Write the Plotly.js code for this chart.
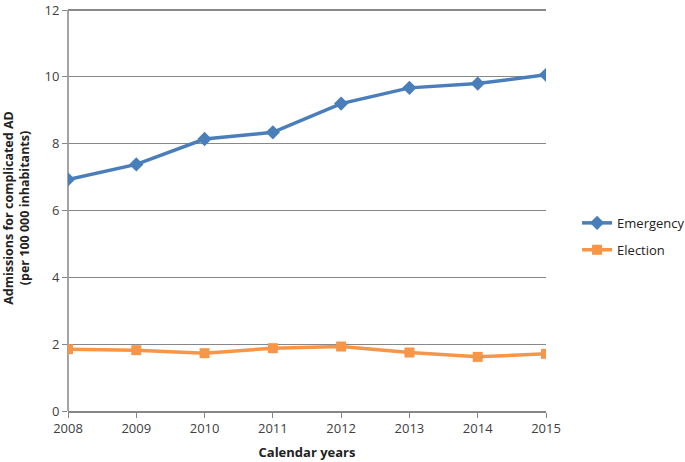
<!DOCTYPE html>
<html>
<head>
<meta charset="utf-8">
<script src="https://cdn.plot.ly/plotly-3.0.1.min.js"></script>
<style>html,body{margin:0;padding:0;background:#fff;}#chart{width:685px;height:462px;}</style>
</head>
<body>
<div id="chart"></div>
<script>
const years = [2008, 2009, 2010, 2011, 2012, 2013, 2014, 2015];
const emergency = [6.93, 7.38, 8.14, 8.34, 9.20, 9.67, 9.80, 10.06];
const election = [1.85, 1.82, 1.73, 1.88, 1.93, 1.75, 1.62, 1.71];
const yTicks = [0, 2, 4, 6, 8, 10, 12];
const yMax = 12;

const font = "'Open Sans', 'Liberation Sans', sans-serif";

const traces = [
  {
    x: years, y: emergency, name: 'Emergency', type: 'scatter', mode: 'lines+markers',
    legendgroup: 'a',
    line: {color: '#4A7EBB', width: 3.5},
    marker: {symbol: 'diamond', size: 11, color: '#4A7EBB'}
  },
  {
    x: years, y: election, name: 'Election', type: 'scatter', mode: 'lines+markers',
    legendgroup: 'b',
    line: {color: '#F79646', width: 3.5},
    marker: {symbol: 'square', size: 10, color: '#F79646'}
  }
];

const layout = {
  width: 685, height: 462,
  margin: {l: 68, r: 139.3, t: 4.5, b: 51.3, autoexpand: false},
  paper_bgcolor: '#fff', plot_bgcolor: '#fff',
  font: {family: font, size: 13, color: '#404040'},
  showlegend: true,
  legend: {x: 1.065, y: 0.43, xanchor: 'left', yanchor: 'middle', font: {size: 13, color: '#222'}, tracegroupgap: 7, itemwidth: 30},
  xaxis: {
    range: [2008, 2015], tickvals: years, ticktext: years.map(String),
    showgrid: false, zeroline: false,
    showline: true, linecolor: '#868686', linewidth: 1.5,
    ticks: 'outside', ticklen: 5, tickcolor: '#868686',
    tickfont: {size: 13, color: '#404040'},
    title: {text: '<b>Calendar years</b>', font: {size: 13, color: '#222'}, standoff: 12}
  },
  yaxis: {
    range: [0, 12.15], tickvals: yTicks,
    showgrid: true, gridcolor: '#888', gridwidth: 1.2,
    zeroline: false,
    showline: false,
    ticks: 'outside', ticklen: 5, tickcolor: '#868686',
    ticklabeloverflow: 'allow',
    tickfont: {size: 13, color: '#404040'},
    title: {text: '<b>Admissions for complicated AD<br>(per 100 000 inhabitants)</b>', font: {size: 12.5, color: '#222'}, standoff: 12}
  },
  shapes: [
    {type: 'line', xref: 'paper', yref: 'y', x0: 0, x1: 0, y0: 0, y1: yMax,
     line: {color: '#868686', width: 1.5}, layer: 'below'}
  ]
};

Plotly.newPlot('chart', traces, layout, {displayModeBar: false, staticPlot: true});
</script>
</body>
</html>
